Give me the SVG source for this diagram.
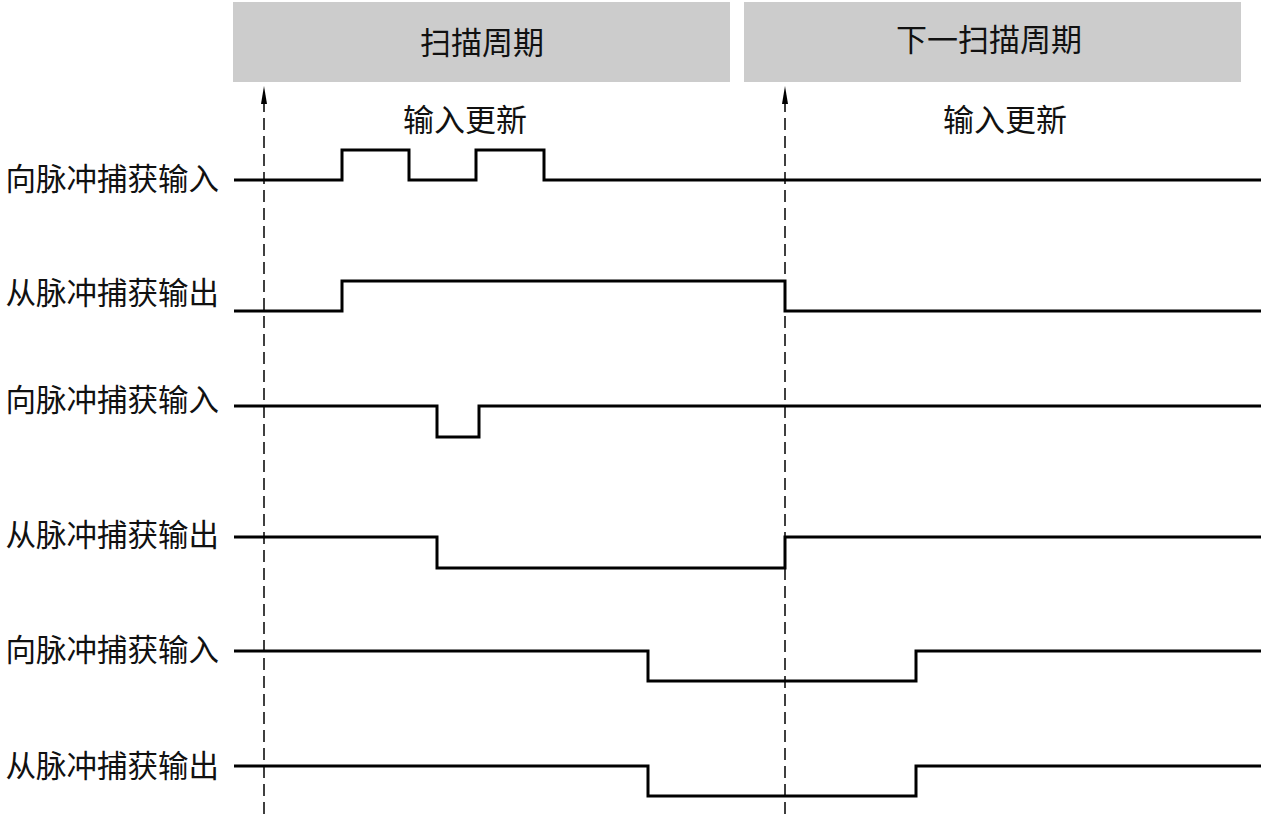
<svg xmlns="http://www.w3.org/2000/svg" width="1261" height="816" viewBox="0 0 1261 816">
<style>
.t{font-family:"Noto Sans CJK SC","Noto Sans",sans-serif;font-size:31px;fill:#111;dominant-baseline:central}
.lbl{text-anchor:end;font-size:30.5px}
.c{text-anchor:middle}
.sig{fill:none;stroke:#000;stroke-width:3}
.dash{stroke:#000;stroke-width:1.5;stroke-dasharray:12 6;fill:none}
.box{fill:#cccccc}
</style>
<rect width="1261" height="816" fill="#fff"/>
<g id="period1">
<rect class="box" x="233" y="2" width="497" height="80"/>
<text class="t c" x="482" y="40">扫描周期</text>
<text class="t c" x="465" y="117">输入更新</text>
</g>
<g id="period2">
<rect class="box" x="744" y="2" width="497" height="80"/>
<text class="t c" x="989" y="37">下一扫描周期</text>
<text class="t c" x="1005" y="117">输入更新</text>
</g>
<g id="labels">
<text class="t lbl" x="219" y="177">向脉冲捕获输入</text>
<text class="t lbl" x="219" y="291">从脉冲捕获输出</text>
<text class="t lbl" x="219" y="398">向脉冲捕获输入</text>
<text class="t lbl" x="219" y="533">从脉冲捕获输出</text>
<text class="t lbl" x="219" y="648">向脉冲捕获输入</text>
<text class="t lbl" x="219" y="764">从脉冲捕获输出</text>
</g>
<g id="connectors">
<line class="dash" x1="264" y1="100" x2="264" y2="816"/>
<polygon points="264,86 261,104 267,104" fill="#000"/>
<line class="dash" x1="785" y1="100" x2="785" y2="816"/>
<polygon points="785,86 782,104 788,104" fill="#000"/>
</g>
<g id="signals">
<polyline class="sig" points="234,180 342,180 342,150 409,150 409,180 476,180 476,150 544,150 544,180 1261,180"/>
<polyline class="sig" points="234,311 342,311 342,281 785,281 785,311 1261,311"/>
<polyline class="sig" points="234,406 437,406 437,437 479,437 479,406 1261,406"/>
<polyline class="sig" points="234,537 437,537 437,568 785,568 785,537 1261,537"/>
<polyline class="sig" points="234,651 648,651 648,681 916,681 916,651 1261,651"/>
<polyline class="sig" points="234,766 648,766 648,796 916,796 916,766 1261,766"/>
</g>
</svg>
